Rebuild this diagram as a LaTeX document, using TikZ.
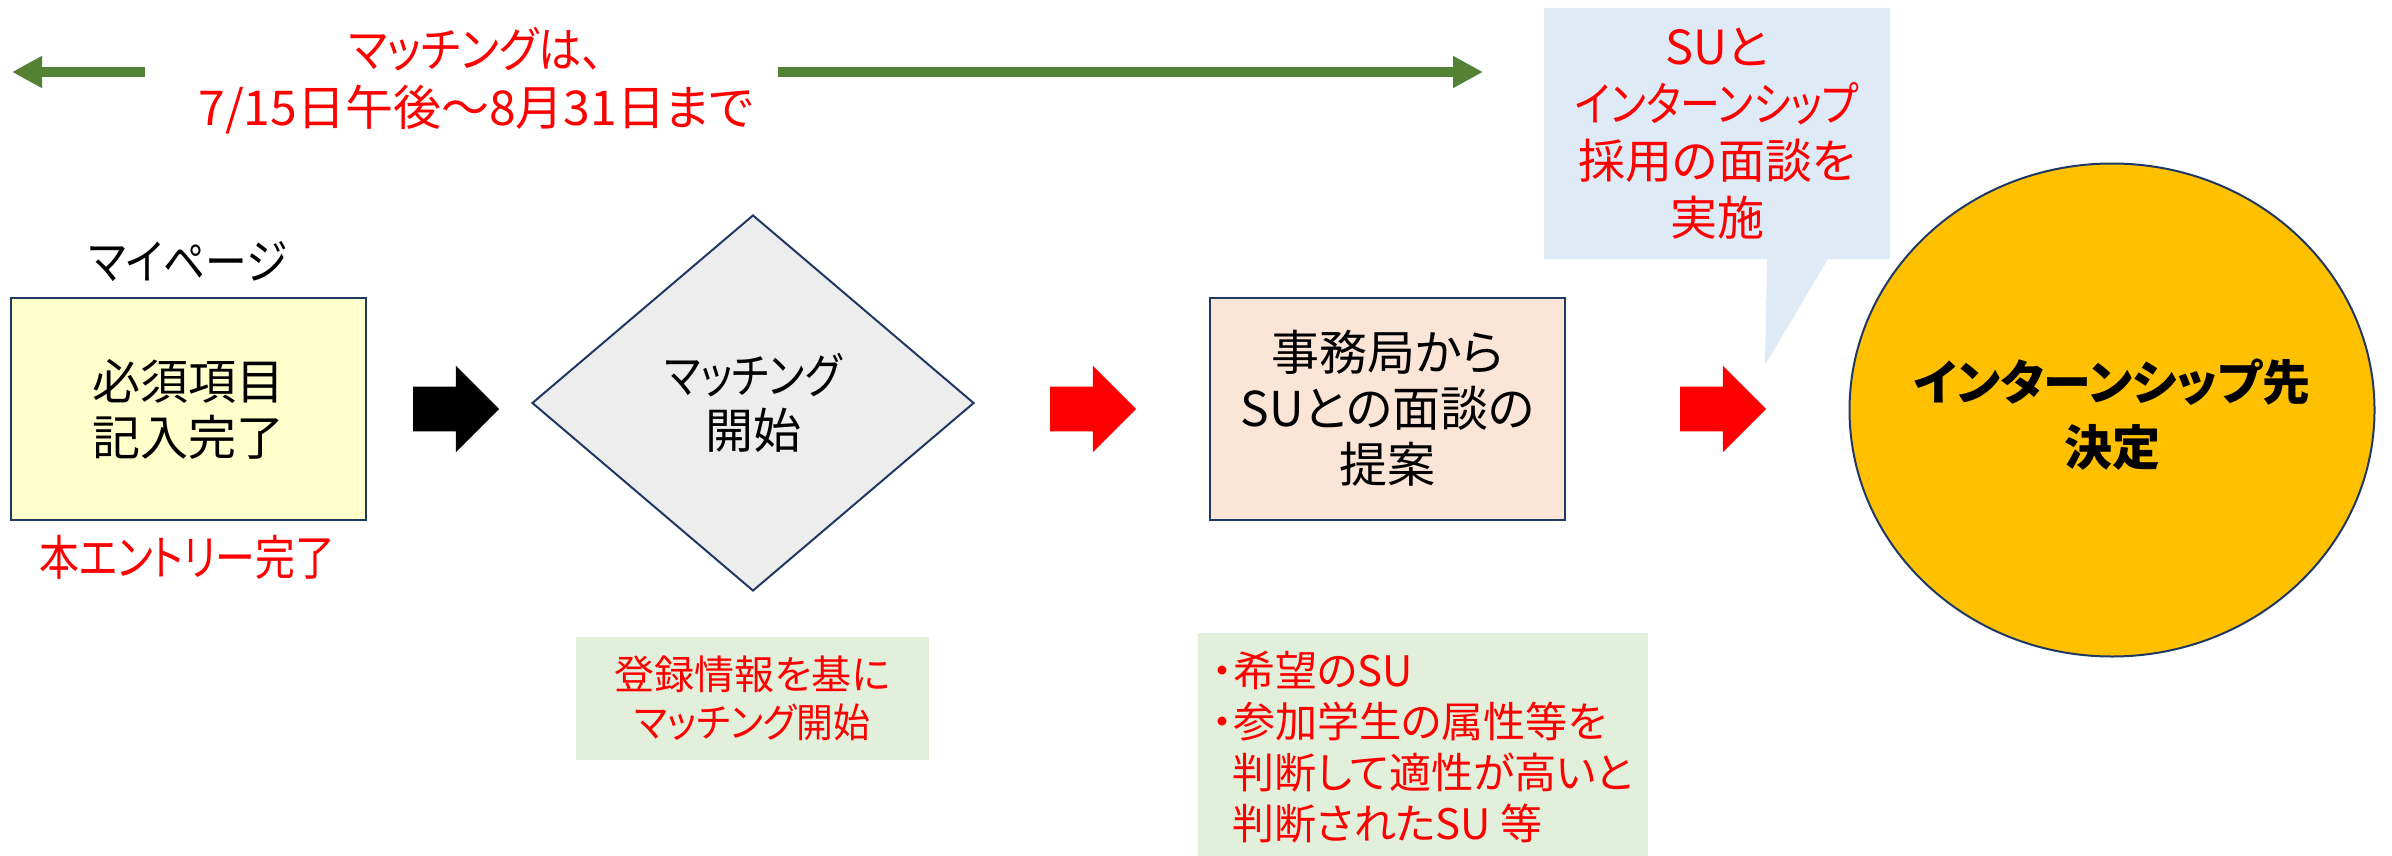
\documentclass[tikz,border=0pt]{standalone}
\usepackage{fontspec}
\setmainfont{Noto Sans CJK JP}[RawFeature=+palt]
\usetikzlibrary{arrows.meta,shapes.geometric,shapes.arrows}
\definecolor{navy}{HTML}{1F3864}
\definecolor{grn}{HTML}{548235}
\definecolor{red0}{HTML}{FF0000}
\definecolor{yel}{HTML}{FFFFCC}
\definecolor{gry}{HTML}{EDEDED}
\definecolor{pch}{HTML}{FBE5D6}
\definecolor{lgrn}{HTML}{E2EFDA}
\definecolor{lblu}{HTML}{DEEBF7}
\definecolor{gold}{HTML}{FFC000}
\newcommand{\sqz}[2]{\scalebox{#1}[1]{#2}}
\begin{document}
\begin{tikzpicture}[x=0.5pt,y=-0.5pt,
  box/.style={draw=navy, line width=1pt, minimum width=177.5pt, minimum height=111pt, inner sep=0pt, align=center, font=\fontsize{24}{28}\selectfont},
  txt/.style={align=center, inner sep=0pt, font=\fontsize{24}{28}\selectfont},
  blk/.style={single arrow, single arrow head extend=10.5pt, single arrow tip angle=90, single arrow head indent=0pt, minimum height=43pt, inner xsep=0pt, inner ysep=11pt},
  garrow/.style={draw=grn, line width=5pt, -{Triangle[length=15pt,width=15pt]}}
]
\useasboundingbox (0,0) rectangle (2392,856);

% top arrows and text
\coordinate (la1) at (145,72); \coordinate (la2) at (12,72);
\coordinate (ra1) at (778,72); \coordinate (ra2) at (1483,72);
\draw[garrow] (la1) -- (la2);
\draw[garrow] (ra1) -- (ra2);
\node[txt, text=red0, font=\fontsize{24}{29}\selectfont] (tt) at (476,81) {\sqz{0.9}{マッチングは、}\\7/15日午後～8月31日まで};

% callout
\fill[lblu] (1544,8) -- (1890,8) -- (1890,259) -- (1828,259) -- (1765,365) -- (1767,259) -- (1544,259) -- cycle;
\node[txt, text=red0, font=\fontsize{23.5}{28.5}\selectfont] (co) at (1717,134) {SUと\\\sqz{0.85}{インターンシップ}\\採用の面談を\\実施};

% step 1
\node[box, fill=yel] (b1) at (188.5,409) {必須項目\\記入完了};
\node[txt] (mp) at (188,262) {\sqz{0.87}{マイページ}};
\node[txt, text=red0] (ent) at (187,557) {\sqz{0.83}{本エントリー完了}};

\node[blk, fill=black] (a1) at (445,409) {};

% diamond
\node[diamond, draw=navy, fill=gry, line width=1pt, minimum width=221pt, minimum height=188pt, inner sep=0pt, align=center, font=\fontsize{24}{27.5}\selectfont] (dm) at (753,403) {\sqz{0.84}{マッチング}\\開始};

\node[blk, fill=red0] (a2) at (1082,409) {};

% step 3
\node[box, fill=pch] (b3) at (1387.5,408.5) {事務局から\\SUとの面談の\\提案};

\node[blk, fill=red0] (a3) at (1712,409) {};

% goal
\node[ellipse, draw=navy, fill=gold, line width=1pt, minimum width=262.5pt, minimum height=246.5pt, inner sep=0pt] (goal) at (2112,410) {};
\node[txt, font=\bfseries\fontsize{24}{32.5}\selectfont] (goalt) at (2112,415) {インターンシップ先\\決定};

% green notes
\node[fill=lgrn, minimum width=176.5pt, minimum height=61.5pt, inner sep=0pt, align=center, text=red0, font=\fontsize{20}{24}\selectfont] (g1) at (752.5,698.5) {登録情報を基に\\\sqz{0.92}{マッチング開始}};

\node[fill=lgrn, minimum width=225pt, minimum height=111.5pt, inner sep=0pt] (g2) at (1423,744.5) {};
\node[anchor=west, align=left, inner sep=0pt, text=red0, font=\fontsize{21}{25.5}\selectfont] (g2t) at (1212,747) {・希望のSU\\・参加学生の属性等を\\\hspace*{10pt}判断して適性が高いと\\\hspace*{10pt}判断されたSU\ 等};
\end{tikzpicture}
\end{document}
